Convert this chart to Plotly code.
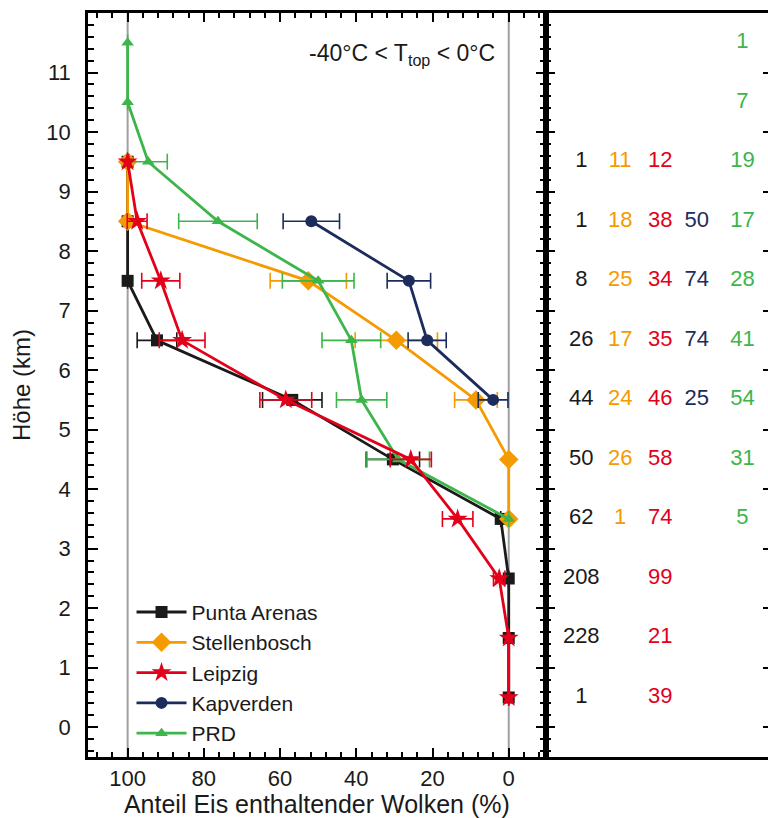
import plotly.graph_objects as go

# ---------------- data ----------------
h_pa = [9.5, 8.5, 7.5, 6.5, 5.5, 4.5, 3.5, 2.5, 1.5, 0.5]
v_pa = [100, 100, 100, 92.3, 56.8, 30.4, 2.1, 0, 0, 0]
e_pa = [0, 0, 0, 5.2, 7.8, 7.0, 0, 0, 0, 0]
n_pa = [1, 1, 8, 26, 44, 50, 62, 208, 228, 1]

h_st = [9.5, 8.5, 7.5, 6.5, 5.5, 4.5, 3.5]
v_st = [100, 100, 52.6, 29.5, 8.6, 0, 0]
e_st = [0, 0, 10.0, 10.8, 5.6, 0, 0]
n_st = [11, 18, 25, 17, 24, 26, 1]

h_le = [9.5, 8.5, 7.5, 6.5, 5.5, 4.5, 3.5, 2.5, 1.5, 0.5]
v_le = [100, 97.5, 91.3, 85.7, 58.5, 25.7, 13.4, 2.5, 0, 0]
e_le = [0, 2.6, 5.0, 6.0, 6.8, 5.4, 4.0, 1.5, 0, 0]
n_le = [12, 38, 34, 35, 46, 58, 74, 99, 21, 39]

h_kv = [8.5, 7.5, 6.5, 5.5]
v_kv = [51.8, 26.2, 21.4, 4.1]
e_kv = [7.4, 5.7, 5.0, 3.9]
n_kv = [50, 74, 74, 25]

h_prd = [11.5, 10.5, 9.5, 8.5, 7.5, 6.5, 5.5, 4.5, 3.5]
v_prd = [100, 100, 94.6, 76.3, 50.0, 41.3, 38.6, 29.0, 0]
e_prd = [0, 0, 5.0, 10.3, 9.4, 7.7, 6.6, 8.2, 0]
n_prd = [1, 7, 19, 17, 28, 41, 54, 31, 5]

y_ticks = [0, 1, 2, 3, 4, 5, 6, 7, 8, 9, 10, 11]
x_ticks = [100, 80, 60, 40, 20, 0]

names = ["Punta Arenas", "Stellenbosch", "Leipzig", "Kapverden", "PRD"]
colors = ["#1a1a1a", "#f59a00", "#e2001a", "#1c2c5c", "#3cb54a"]
symbols = ["square", "diamond", "star", "circle", "triangle-up"]
msizes = [12, 15, 15, 12, 11]
col_pos = [0.16, 0.335, 0.515, 0.68, 0.885]   # column positions in right panel

series = [
    (h_pa, v_pa, e_pa, n_pa),
    (h_st, v_st, e_st, n_st),
    (h_le, v_le, e_le, n_le),
    (h_kv, v_kv, e_kv, n_kv),
    (h_prd, v_prd, e_prd, n_prd),
]

FONT = "Liberation Sans, Arial, sans-serif"

fig = go.Figure()

draw_order = [0, 1, 3, 4, 2]
for i in draw_order:
    h, v, e, n = series[i]
    fig.add_trace(go.Scatter(
        x=v, y=h, name=names[i], mode="lines+markers",
        line=dict(color=colors[i], width=2.8),
        marker=dict(symbol=symbols[i], size=msizes[i], color=colors[i]),
        error_x=dict(type="data", array=e, visible=True, color=colors[i],
                     thickness=1.6, width=8),
        legendrank=i + 1,
        xaxis="x", yaxis="y",
    ))

for i in range(5):
    h, v, e, n = series[i]
    fig.add_trace(go.Scatter(
        x=[col_pos[i]] * len(h), y=h, mode="text",
        text=[str(k) for k in n],
        textfont=dict(family=FONT, size=22, color=colors[i]),
        textposition="middle center",
        showlegend=False, hoverinfo="skip",
        xaxis="x2", yaxis="y2",
    ))

axis_common = dict(showgrid=False, zeroline=False, linecolor="black", linewidth=2.5,
                   tickcolor="black", tickwidth=2, ticks="inside")

dom_main = (545.7 - 88) / 680

fig.update_layout(
    width=768, height=818,
    margin=dict(l=88, r=0, t=13, b=61),
    paper_bgcolor="white", plot_bgcolor="white",
    font=dict(family=FONT, size=21, color="#1a1a1a"),
    showlegend=True,
    legend=dict(x=0.064, y=0.222, xanchor="left", yanchor="top",
                bgcolor="rgba(0,0,0,0)", font=dict(size=21, color="#1a1a1a"),
                tracegroupgap=0, itemwidth=50),
    xaxis=dict(domain=[0, dom_main], range=[110.4, -9.7], showline=True, mirror="allticks",
               tickmode="array", tickvals=x_ticks, ticklen=9,
               minor=dict(dtick=4, tick0=0, ticklen=5, ticks="inside", tickcolor="black", tickwidth=1.5),
               tickfont=dict(size=22),
               title=dict(text="Anteil Eis enthaltender Wolken (%)", font=dict(size=25), standoff=7),
               **axis_common),
    yaxis=dict(range=[-0.5, 12], showline=True, mirror="allticks", anchor="x",
               tickmode="array", tickvals=y_ticks, ticklen=10,
               minor=dict(dtick=0.2, tick0=0, ticklen=6, ticks="inside", tickcolor="black", tickwidth=1.5),
               tickfont=dict(size=22), ticklabelstandoff=10,
               title=dict(text="Höhe (km)", font=dict(size=24), standoff=9),
               **axis_common),
    xaxis2=dict(domain=[dom_main, 1], range=[0, 1], anchor="y2", showline=True, mirror=True,
                ticks="", showticklabels=False, showgrid=False, zeroline=False,
                linecolor="black", linewidth=2.5),
    yaxis2=dict(range=[-0.5, 12], anchor="x2", side="left", showline=True,
                tickmode="array", tickvals=y_ticks, ticklen=10, showticklabels=False,
                minor=dict(dtick=0.2, tick0=0, ticklen=6, ticks="inside", tickcolor="black", tickwidth=1.5),
                **axis_common),
    yaxis3=dict(range=[-0.5, 12], anchor="x2", overlaying="y2", side="right", showline=False,
                tickmode="array", tickvals=y_ticks, ticklen=5, showticklabels=False,
                showgrid=False, zeroline=False, ticks="inside", tickcolor="black", tickwidth=2),
)

# reference lines at 100 % and 0 %
for xv in [100, 0]:
    fig.add_shape(type="line", xref="x", yref="y domain", x0=xv, x1=xv, y0=0, y1=1,
                  line=dict(color="#a0a0a0", width=2), layer="below")

fig.add_annotation(text="-40°C < T<sub>top</sub> < 0°C", xref="x", yref="y",
                   x=3.0, y=11.3, xanchor="right", yanchor="middle", showarrow=False,
                   font=dict(size=23, color="#1a1a1a"))

# empty trace to activate the right-hand tick axis of the count panel
fig.add_trace(go.Scatter(x=[None], y=[None], xaxis="x2", yaxis="y3", showlegend=False,
                         mode="markers", hoverinfo="skip"))

fig.write_html("out.html")
